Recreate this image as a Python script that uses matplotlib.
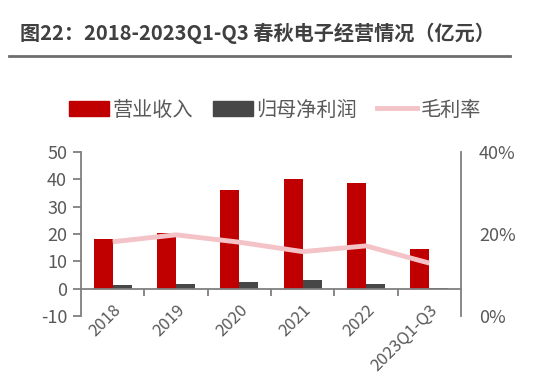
import numpy as np
import matplotlib
matplotlib.use("Agg")
import matplotlib.pyplot as plt
from matplotlib.ticker import FuncFormatter, FixedLocator
from matplotlib.patches import Patch
from matplotlib.lines import Line2D

plt.rcParams["font.family"] = ["Noto Sans CJK SC", "DejaVu Sans"]
plt.rcParams["axes.unicode_minus"] = False

# 数据（亿元）
years = ["2018", "2019", "2020", "2021", "2022", "2023Q1-Q3"]
revenue = [18.0, 20.5, 36.0, 40.0, 38.5, 14.5]
net_profit = [1.2, 1.6, 2.6, 3.2, 1.6, 0.2]
gross_margin = [0.181, 0.198, 0.180, 0.157, 0.171, 0.129]

RED = "#C00000"
DARK = "#474747"
PINK = "#F4C3C7"
GREY = "#595959"
AXIS = "#7F7F7F"

fig = plt.figure(figsize=(5.5, 3.76), dpi=100)

# 标题与分隔线
fig.text(20 / 550, 1 - 33 / 376, "图22：2018-2023Q1-Q3 春秋电子经营情况（亿元）",
         fontsize=14.5, fontweight="bold", color="#404040", va="center", ha="left")
fig.add_artist(Line2D([9 / 550, 510 / 550], [1 - 56 / 376, 1 - 56 / 376],
                      color="#6E6E6E", linewidth=2, transform=fig.transFigure))

ax = fig.add_axes([81 / 550, 1 - 316 / 376, 380 / 550, 164 / 376])
x = np.arange(len(years))
w = 0.3
ax.bar(x - w / 2, revenue, width=w, color=RED, zorder=2)
ax.bar(x + w / 2, net_profit, width=w, color=DARK, zorder=2)

ax.set_xlim(-0.5, len(years) - 0.5)
ax.set_ylim(-10, 50)
ax.set_yticks(range(-10, 51, 10))

for side in ["top", "right"]:
    ax.spines[side].set_visible(False)
ax.spines["left"].set_color(AXIS)
ax.spines["left"].set_linewidth(1.3)
ax.spines["bottom"].set_position(("data", 0))
ax.spines["bottom"].set_color(AXIS)
ax.spines["bottom"].set_linewidth(1.3)

ax.set_xticks(x)
ax.set_xticklabels(years, rotation=45, ha="right", rotation_mode="anchor")
ax.xaxis.set_minor_locator(FixedLocator(np.arange(0.5, len(years) - 0.5, 1)))
ax.tick_params(axis="x", which="major", length=0, pad=9, labelsize=12, labelcolor=GREY)
ax.tick_params(axis="x", which="minor", length=5, width=1.3, color=AXIS, direction="out")
ax.tick_params(axis="y", length=6, width=1.3, color=AXIS, pad=4, labelsize=13, labelcolor=GREY)

ax2 = ax.twinx()
ax2.plot(x, gross_margin, color=PINK, linewidth=3.5, zorder=3, solid_capstyle="butt")
ax2.set_ylim(0, 0.4)
ax2.set_yticks([0, 0.2, 0.4])
ax2.yaxis.set_major_formatter(FuncFormatter(lambda v, _: f"{v:.0%}"))
for side in ["top", "left", "bottom"]:
    ax2.spines[side].set_visible(False)
ax2.spines["right"].set_color(AXIS)
ax2.spines["right"].set_linewidth(1.3)
ax2.tick_params(axis="y", length=0, pad=13, labelsize=13, labelcolor=GREY)

handles = [Patch(color=RED, label="营业收入"),
           Patch(color=DARK, label="归母净利润"),
           Line2D([], [], color=PINK, linewidth=3.5, label="毛利率")]
fig.legend(handles=handles, loc="center", bbox_to_anchor=(0.5, 1 - 110 / 376), ncol=3,
           frameon=False, fontsize=14.5, labelcolor=GREY, handlelength=2.0,
           handletextpad=0.15, columnspacing=1.0, handleheight=0.7)

fig.savefig("out.png", dpi=100)
